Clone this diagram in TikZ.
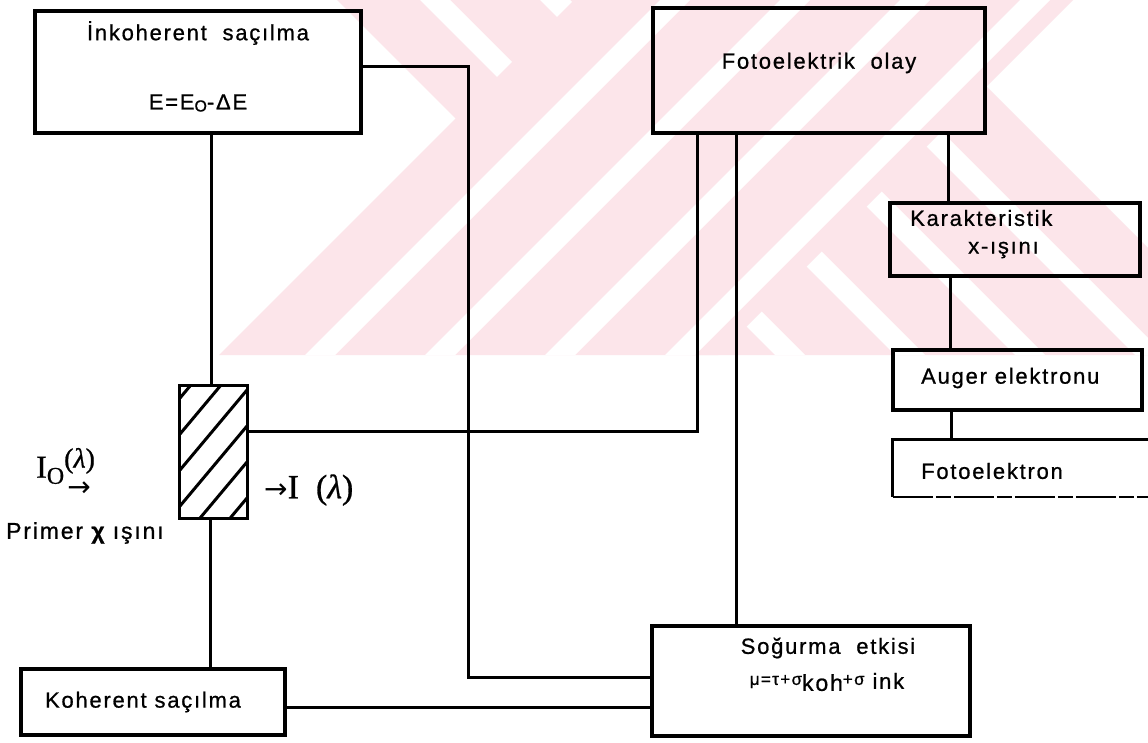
\documentclass[tikz,border=0pt]{standalone}
\usepackage{fontspec}
\setmainfont{Liberation Sans}[LetterSpace=8, FakeBold=0.8]
\newfontfamily\serf{Liberation Serif}[FakeBold=0.8]
\newfontfamily\arrf{DejaVu Sans}
\usetikzlibrary{calc}
\definecolor{wm}{RGB}{252,229,234}
\tikzset{
  box/.style={draw, line width=3.2pt, inner sep=0pt},
  conn/.style={line width=3pt},
  lbl/.style={inner sep=0pt, font=\fontsize{22}{26}\selectfont},
  serif/.style={inner sep=0pt},
}
\begin{document}
\begin{tikzpicture}[x=1pt,y=-1pt]
\useasboundingbox (0,0) rectangle (1148,743);
\fill[white] (0,0) rectangle (1148,743);
% watermark
\begin{scope}
  \clip (0,0) rectangle (1148,355);
  \fill[wm] (337,0) -- (900,0) -- (1255,355) -- (692,355) -- cycle;
  \foreach \c in {420,540,...,800}
    \fill[white] (\c,0) -- (\c+30,0) -- (\c+385,355) -- (\c+355,355) -- cycle;
  \fill[wm] (574,0) -- (1073,0) -- (718,355) -- (219,355) -- cycle;
  \foreach \c in {660,780,...,1020}
    \fill[white] (\c,0) -- (\c+30,0) -- (\c-325,355) -- (\c-355,355) -- cycle;
\end{scope}
% boxes
\node[box, minimum width=326pt, minimum height=122pt] (ink) at (198,72) {};
\node[box, minimum width=332pt, minimum height=125pt] (foto) at (819,70.5) {};
\node[box, minimum width=250pt, minimum height=73pt] (kar) at (1015,239.5) {};
\node[box, minimum width=249pt, minimum height=60pt] (aug) at (1017.5,380) {};
\node[inner sep=0pt, minimum width=255pt, minimum height=57pt] (fotoe) at (1020.5,468.5) {};
\node[box, minimum width=318pt, minimum height=110pt] (sog) at (811,681) {};
\node[box, minimum width=264pt, minimum height=66pt] (koh) at (153,702) {};
\node[inner sep=0pt, minimum width=67pt, minimum height=132pt] (sample) at (213.5,452) {};
% hatched sample
\begin{scope}
  \clip (sample.south west) rectangle (sample.north east);
  \foreach \k in {-2,...,5}
    \draw[conn] (180,398+36*\k) -- (247,318+36*\k);
\end{scope}
\draw[box] (sample.south west) rectangle (sample.north east);
% Fotoelektron open box
\draw[line width=3.2pt] (fotoe.north east) -- (fotoe.north west) -- (fotoe.south west);
\draw[line width=2.2pt, dash pattern=on 40pt off 3pt on 15pt off 3pt] (fotoe.south west) -- (fotoe.south east);
% junction coordinates
\coordinate (ja) at (468,67);
\coordinate (jb) at (468,677);
\coordinate (jk) at (0,707);
\coordinate (jc) at (697,431);
\coordinate (jd) at (736,0);
\coordinate (je) at (948,0);
\coordinate (jf) at (950,0);
\coordinate (jg) at (951,0);
\coordinate (jh) at (211,0);
\coordinate (ji) at (210,0);
% connectors
\draw[conn] (ink.east |- ja) -- (ja) -- (jb) -- (sog.west |- jb);
\draw[conn] (koh.east |- jk) -- (sog.west |- jk);
\draw[conn] (jh |- sample.north) -- (jh |- ink.south);
\draw[conn] (ji |- sample.south) -- (ji |- koh.north);
\draw[conn] (sample.east |- jc) -- (jc) -- (jc |- foto.south);
\draw[conn] (jd |- foto.south) -- (jd |- sog.north);
\draw[conn] (je |- foto.south) -- (je |- kar.north);
\draw[conn] (jf |- kar.south) -- (jf |- aug.north);
\draw[conn] (jg |- aug.south) -- (jg |- fotoe.north);
% texts
\node[lbl] (tink1) at (198,33) {İnkoherent\ \ saçılma};
\node[lbl] (tink2) at (198,103) {E=E\raisebox{-2pt}{\fontsize{16}{16}\selectfont O}-ΔE};
\node[lbl] (tfoto) at (819,63) {Fotoelektrik\ \ olay};
\node[lbl, anchor=west] (tkar1) at (910,218) {Karakteristik};
\node[lbl, anchor=west] (tkar2) at (968,250) {x-ışını};
\node[lbl, anchor=west] (taug) at (921,378) {Auger elektronu};
\node[lbl, anchor=west] (tfotoe) at (921,471) {Fotoelektron};
\node[lbl] (tsog1) at (828,648) {Soğurma\ \ etkisi};
\node[lbl] (tsog2) at (827,682) {\raisebox{4pt}{\fontsize{17}{17}\selectfont μ=τ+σ}\raisebox{-2pt}{\fontsize{23}{26}\selectfont koh}\raisebox{4pt}{\fontsize{17}{17}\selectfont +σ}\ ink};
\node[lbl] (tkoh) at (143,702) {Koherent saçılma};
\node[lbl, anchor=west, font=\fontsize{23}{27}\selectfont] (tprim) at (6,533) {Primer {\bfseries χ} ışını};
\node[serif, anchor=west, font=\fontsize{32}{36}\serf] (ti0) at (36,466) {I\raisebox{-6pt}{\fontsize{24}{26}\selectfont O}\raisebox{10pt}{\fontsize{28}{30}\selectfont(\textit{λ})}};
\node[serif, font=\fontsize{28}{30}\arrf] (tarr) at (79,489) {→};
\node[serif, anchor=west, font=\fontsize{34}{38}\serf] (tI) at (264,490) {{\arrf\fontsize{28}{30}\selectfont →}I\ \ (\textit{λ})};
\end{tikzpicture}
\end{document}
